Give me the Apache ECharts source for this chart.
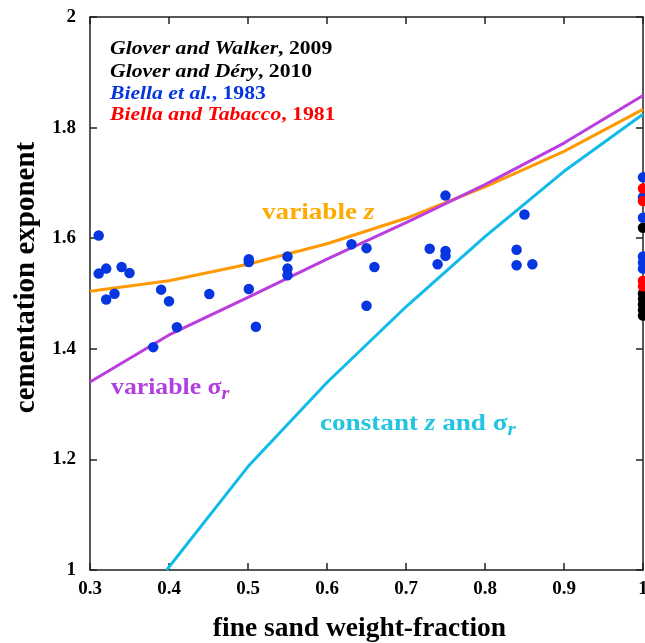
<!DOCTYPE html>
<html>
<head>
<meta charset="utf-8">
<script src="https://cdn.jsdelivr.net/npm/echarts@6/dist/echarts.min.js"></script>
<style>html,body{margin:0;padding:0;background:#fff;overflow:hidden}#c{width:645px;height:643px}</style>
</head>
<body>
<div id="c"></div>
<script>
// ---- data ----
const xTicks = ['0.3','0.4','0.5','0.6','0.7','0.8','0.9','1'];
const yTicks = ['1','1.2','1.4','1.6','1.8','2'];

const variableZ = [[0.3,1.504],[0.4,1.523],[0.5,1.553],[0.6,1.590],[0.7,1.636],[0.8,1.693],[0.9,1.757],[1.0,1.833]];
const variableSigma = [[0.3,1.340],[0.4,1.425],[0.5,1.493],[0.6,1.562],[0.7,1.628],[0.8,1.697],[0.9,1.772],[1.0,1.858]];
const constantZSigma = [[0.397,1.0],[0.5,1.187],[0.6,1.339],[0.7,1.476],[0.8,1.603],[0.9,1.721],[1.0,1.824]];

const biella1983 = [
  [0.311,1.605],[0.311,1.536],[0.3205,1.545],[0.3205,1.489],[0.331,1.4995],[0.340,1.548],[0.350,1.537],
  [0.390,1.507],[0.400,1.486],[0.380,1.403],[0.410,1.439],[0.451,1.499],
  [0.501,1.562],[0.501,1.557],[0.501,1.508],[0.510,1.440],
  [0.550,1.567],[0.550,1.545],[0.550,1.533],
  [0.631,1.589],[0.650,1.582],[0.660,1.548],[0.650,1.478],
  [0.750,1.677],[0.730,1.581],[0.750,1.577],[0.750,1.568],[0.740,1.553],
  [0.850,1.643],[0.840,1.579],[0.840,1.551],[0.860,1.553],
  [1.0,1.710],[1.0,1.674],[1.0,1.637],[1.0,1.567],[1.0,1.556],[1.0,1.545]
];
const biellaTabacco1981 = [[1.0,1.690],[1.0,1.667],[1.0,1.523],[1.0,1.513]];
const glover = [[1.0,1.619],[1.0,1.500],[1.0,1.490],[1.0,1.480],[1.0,1.470],[1.0,1.460]];

// ---- chart ----
const FONT = 'Liberation Serif';
const chart = echarts.init(document.getElementById('c'));
const axisLine = {show:true, lineStyle:{color:'#222', width:1.5}};
const tick = {show:true, inside:true, length:7, lineStyle:{color:'#222', width:1.5}};

const xFmt = v => { const i = Math.round((v-0.3)*10); return xTicks[i] !== undefined ? xTicks[i] : ''; };
const yFmt = v => { const i = Math.round((v-1)*5); return yTicks[i] !== undefined ? yTicks[i] : ''; };

function legendText(top, str, color){
  const r = {
    i:{fontFamily:FONT, fontStyle:'italic', fontWeight:'bold', fontSize:19, fill:color},
    n:{fontFamily:FONT, fontWeight:'bold', fontSize:19, fill:color}
  };
  return {type:'text', left:110, top:top, scaleX:1.14, style:{text:str, rich:r, fill:color, font:'bold 19px '+FONT}};
}
function annRich(color, size){
  return {
    n:{fontFamily:FONT, fontWeight:'bold', fontSize:size, fill:color, verticalAlign:'bottom'},
    i:{fontFamily:FONT, fontWeight:'bold', fontStyle:'italic', fontSize:size, fill:color, verticalAlign:'bottom'},
    s:{fontFamily:FONT, fontWeight:'bold', fontSize:size, fill:color, verticalAlign:'bottom'},
    r:{fontFamily:FONT, fontWeight:'bold', fontStyle:'italic', fontSize:size-5, fill:color, verticalAlign:'bottom', padding:[0,0,-3,0]}
  };
}

chart.setOption({
  animation:false,
  grid:{left:90, right:2, top:17, bottom:73, containLabel:false, outerBoundsMode:'none'},
  xAxis:[{
    type:'value', min:0.3, max:1, interval:0.1, position:'bottom',
    axisLine, axisTick:tick, splitLine:{show:false},
    axisLabel:{formatter:xFmt, fontFamily:FONT, fontWeight:'bold', fontSize:19, color:'#000', margin:10},
    name:'fine sand weight-fraction', nameLocation:'middle', nameGap:45,
    nameTextStyle:{fontFamily:FONT, fontWeight:'bold', fontSize:27.5, color:'#000', padding:[0,14,0,0]}
  },{
    type:'value', min:0.3, max:1, interval:0.1, position:'top',
    axisLine, axisTick:tick, axisLabel:{show:false}, splitLine:{show:false}
  }],
  yAxis:[{
    type:'value', min:1, max:2, interval:0.2, position:'left',
    axisLine, axisTick:tick, splitLine:{show:false},
    axisLabel:{formatter:yFmt, fontFamily:FONT, fontWeight:'bold', fontSize:19, color:'#000', margin:14},
    name:'cementation exponent', nameLocation:'middle', nameGap:48,
    nameTextStyle:{fontFamily:FONT, fontWeight:'bold', fontSize:29, color:'#000', padding:[0,0,0,32]}
  },{
    type:'value', min:1, max:2, interval:0.2, position:'right',
    axisLine, axisTick:tick, axisLabel:{show:false}, splitLine:{show:false}
  }],
  series:[
    {type:'line', data:variableZ, showSymbol:false, lineStyle:{color:'#ff9900', width:3}, clip:true, z:2},
    {type:'line', data:variableSigma, showSymbol:false, lineStyle:{color:'#bb3ddd', width:3}, clip:true, z:2},
    {type:'line', data:constantZSigma, showSymbol:false, lineStyle:{color:'#11bbe8', width:3}, clip:true, z:2},
    {type:'scatter', data:glover, symbolSize:10.5, itemStyle:{color:'#000', opacity:1}, clip:true, z:3},
    {type:'scatter', data:biella1983, symbolSize:10.5, itemStyle:{color:'#0536e0', opacity:1}, clip:true, z:4},
    {type:'scatter', data:biellaTabacco1981, symbolSize:10.5, itemStyle:{color:'#ff0000', opacity:1}, clip:true, z:5}
  ],
  graphic:[
    legendText(40, '{i|Glover and Walker}{n|, 2009}', '#000'),
    legendText(63, '{i|Glover and Déry}{n|, 2010}', '#000'),
    legendText(85, '{i|Biella et al.}{n|, 1983}', '#0536e0'),
    legendText(106, '{i|Biella and Tabacco}{n|, 1981}', '#ff0000'),
    {type:'text', left:262, top:202, scaleX:1.18, style:{text:'{n|variable }{i|z}', rich:annRich('#ffaa00', 23)}},
    {type:'text', left:111, top:377, scaleX:1.12, style:{text:'{n|variable }{s|σ}{r|r}', rich:annRich('#b040e0', 23)}},
    {type:'text', left:320, top:413, scaleX:1.18, style:{text:'{n|constant }{i|z}{n| and }{s|σ}{r|r}', rich:annRich('#22c4e0', 23)}}
  ]
});
</script>
</body>
</html>
